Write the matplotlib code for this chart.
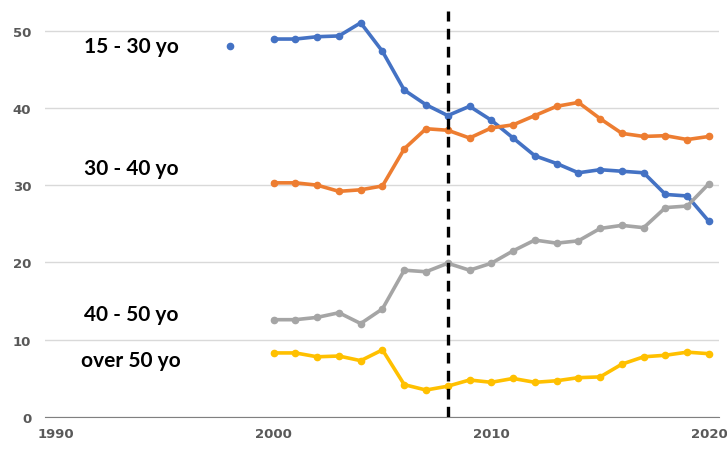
import matplotlib.pyplot as plt

years = list(range(2000, 2021))

age_15_30 = [48.9, 48.9, 49.2, 49.3, 51.0, 47.3, 42.3, 40.4, 39.0, 40.2, 38.4,
             36.1, 33.8, 32.8, 31.6, 32.0, 31.8, 31.6, 28.8, 28.6, 25.3]
age_30_40 = [30.3, 30.3, 30.0, 29.2, 29.4, 29.9, 34.7, 37.3, 37.1, 36.1, 37.4,
             37.8, 39.0, 40.2, 40.7, 38.6, 36.7, 36.3, 36.4, 35.9, 36.3]
age_40_50 = [12.6, 12.6, 12.9, 13.5, 12.1, 14.0, 19.0, 18.8, 19.9, 19.0, 19.9,
             21.5, 22.9, 22.5, 22.8, 24.4, 24.8, 24.5, 27.1, 27.3, 30.2]
age_over_50 = [8.3, 8.3, 7.8, 7.9, 7.3, 8.7, 4.2, 3.5, 4.0, 4.8, 4.5,
               5.0, 4.5, 4.7, 5.1, 5.2, 6.85, 7.8, 8.0, 8.4, 8.2]

# lone early point of the 15-30 series
extra_year = [1998]
extra_value = [48.0]

cutoff_year = 2008

labels = ["15 - 30 yo", "30 - 40 yo", "40 - 50 yo", "over 50 yo"]
label_y = [48.0, 32.2, 13.3, 7.4]
colors = ["#4472C4", "#ED7D31", "#A5A5A5", "#FFC000"]

fig = plt.figure(figsize=(7.27, 4.52), dpi=100)
ax = fig.add_axes([0.062, 0.075, 0.927, 0.898])

for series, c in zip([age_15_30, age_30_40, age_40_50, age_over_50], colors):
    ax.plot(years, series, color=c, linewidth=2.6, marker="o", markersize=4.5,
            zorder=3)
ax.plot(extra_year, extra_value, color=colors[0], marker="o", markersize=4.5,
        linestyle="none", zorder=3)

ax.axvline(cutoff_year, color="black", linestyle=(0, (3.2, 2.2)), linewidth=2.4,
           zorder=4)

for text, y in zip(labels, label_y):
    ax.text(1993.45, y, text, ha="center", va="center", fontsize=15,
            fontweight="bold", family="Lato", color="black")

ax.set_xlim(1989.5, 2020.46)
ax.set_ylim(0, 52.5)
ax.set_xticks([1990, 2000, 2010, 2020])
ax.set_yticks([0, 10, 20, 30, 40, 50])
ax.yaxis.grid(True, color="#D9D9D9", linewidth=1)
ax.set_axisbelow(True)
for side in ["top", "right", "left"]:
    ax.spines[side].set_visible(False)
ax.spines["bottom"].set_color("#808080")
ax.tick_params(length=0, labelsize=9.5, labelcolor="#595959")
ax.tick_params(axis="y", pad=10)
ax.tick_params(axis="x", pad=7)
for lbl in ax.get_xticklabels() + ax.get_yticklabels():
    lbl.set_fontweight("bold")

fig.savefig("out.png", dpi=100)
